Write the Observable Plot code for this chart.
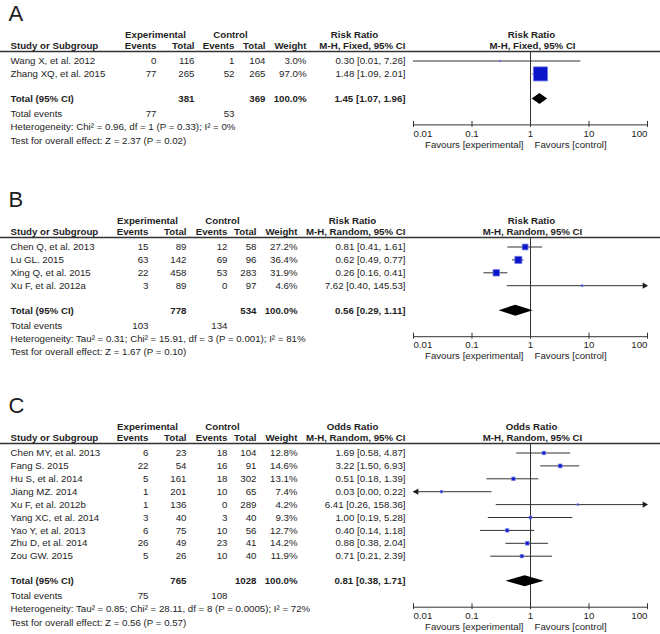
<!DOCTYPE html>
<html>
<head>
<meta charset="utf-8">
<script src="https://cdn.jsdelivr.net/npm/d3@7"></script>
<script src="https://cdn.jsdelivr.net/npm/@observablehq/plot@0.6"></script>
<style>
  html, body { margin: 0; padding: 0; background: #fff; }
  #chart { width: 660px; height: 634px; overflow: hidden; }
  #chart svg { display: block; }
</style>
</head>
<body>
<div id="chart"></div>
<script>
// ---------- shared labels ----------
const groupLabels = ["Experimental", "Control"];
const columnLabels = ["Study or Subgroup", "Events", "Total", "Events", "Total", "Weight"];
const axisTicks = [0.01, 0.1, 1, 10, 100];
const axisTickLabels = ["0.01", "0.1", "1", "10", "100"];
const favoursLabels = ["Favours [experimental]", "Favours [control]"];
const totalRowLabel = "Total (95% CI)";
const totalEventsLabel = "Total events";
const totalWeightLabel = "100.0%";

// ---------- Panel A ----------
const panelA_letter = "A";
const panelA_measure = "Risk Ratio";
const panelA_method = "M-H, Fixed, 95% CI";
const panelA_studies = ["Wang X, et al. 2012", "Zhang XQ, et al. 2015"];
const panelA_expEvents = [0, 77];
const panelA_expTotal = [116, 265];
const panelA_ctrlEvents = [1, 52];
const panelA_ctrlTotal = [104, 265];
const panelA_weight = [3.0, 97.0];
const panelA_est = [0.30, 1.48];
const panelA_lower = [0.01, 1.09];
const panelA_upper = [7.26, 2.01];
const panelA_totals = [381, 369];
const panelA_pooled = [1.45, 1.07, 1.96];
const panelA_totalEvents = [77, 53];
const panelA_heterogeneity = "Heterogeneity: Chi² = 0.96, df = 1 (P = 0.33); I² = 0%";
const panelA_overall = "Test for overall effect: Z = 2.37 (P = 0.02)";

// ---------- Panel B ----------
const panelB_letter = "B";
const panelB_measure = "Risk Ratio";
const panelB_method = "M-H, Random, 95% CI";
const panelB_studies = ["Chen Q, et al. 2013", "Lu GL. 2015", "Xing Q, et al. 2015", "Xu F, et al. 2012a"];
const panelB_expEvents = [15, 63, 22, 3];
const panelB_expTotal = [89, 142, 458, 89];
const panelB_ctrlEvents = [12, 69, 53, 0];
const panelB_ctrlTotal = [58, 96, 283, 97];
const panelB_weight = [27.2, 36.4, 31.9, 4.6];
const panelB_est = [0.81, 0.62, 0.26, 7.62];
const panelB_lower = [0.41, 0.49, 0.16, 0.40];
const panelB_upper = [1.61, 0.77, 0.41, 145.53];
const panelB_totals = [778, 534];
const panelB_pooled = [0.56, 0.29, 1.11];
const panelB_totalEvents = [103, 134];
const panelB_heterogeneity = "Heterogeneity: Tau² = 0.31; Chi² = 15.91, df = 3 (P = 0.001); I² = 81%";
const panelB_overall = "Test for overall effect: Z = 1.67 (P = 0.10)";

// ---------- Panel C ----------
const panelC_letter = "C";
const panelC_measure = "Odds Ratio";
const panelC_method = "M-H, Random, 95% CI";
const panelC_studies = ["Chen MY, et al. 2013", "Fang S. 2015", "Hu S, et al. 2014", "Jiang MZ. 2014", "Xu F, et al. 2012b", "Yang XC, et al. 2014", "Yao Y, et al. 2013", "Zhu D, et al. 2014", "Zou GW. 2015"];
const panelC_expEvents = [6, 22, 5, 1, 1, 3, 6, 26, 5];
const panelC_expTotal = [23, 54, 161, 201, 136, 40, 75, 49, 26];
const panelC_ctrlEvents = [18, 16, 18, 10, 0, 3, 10, 23, 10];
const panelC_ctrlTotal = [104, 91, 302, 65, 289, 40, 56, 41, 40];
const panelC_weight = [12.8, 14.6, 13.1, 7.4, 4.2, 9.3, 12.7, 14.2, 11.9];
const panelC_est = [1.69, 3.22, 0.51, 0.03, 6.41, 1.00, 0.40, 0.88, 0.71];
const panelC_lower = [0.58, 1.50, 0.18, 0.00, 0.26, 0.19, 0.14, 0.38, 0.21];
const panelC_upper = [4.87, 6.93, 1.39, 0.22, 158.36, 5.28, 1.18, 2.04, 2.39];
const panelC_totals = [765, 1028];
const panelC_pooled = [0.81, 0.38, 1.71];
const panelC_totalEvents = [75, 108];
const panelC_heterogeneity = "Heterogeneity: Tau² = 0.85; Chi² = 28.11, df = 8 (P = 0.0005); I² = 72%";
const panelC_overall = "Test for overall effect: Z = 0.56 (P = 0.57)";

// ---------- drawing ----------
const FONT = "'Liberation Sans', Arial, Helvetica, sans-serif";
const INK = "#1e1e1e";
const LINE = "#333";
const BLUE = "#0a14c8";
const BLUE_EDGE = "#6e78e6";
const f2 = d3.format(".2f");
const ciText = (e, l, h) => `${f2(e)} [${f2(l)}, ${f2(h)}]`;
const wText = w => `${w.toFixed(1)}%`;

function forestPanel(d, lay) {
  const P = 12.9, L = 51, H = lay.height;
  const u = px => px / P;
  const n = d.studies.length;
  const rowPx = i => 9.5 + P * i;
  const totPx = rowPx(n - 1) + 25;
  const yTot = u(totPx), yEv = u(totPx + 15), yHet = u(totPx + 28), yTest = u(totPx + 41.5);
  const yAxis = u(totPx + 26), yTickLbl = u(totPx + 34.5), yFav = u(totPx + 45.5);
  const yLetter = u(-38), yH1 = u(-17), yH2 = u(-5.5);
  const [cEE, cET, cCE, cCT, cW, cCI] = lay.cols;
  const xlo = 0.01, xhi = 100;
  const rows = d.studies.map((name, i) => ({
    name, y: u(rowPx(i)),
    ee: d.expEvents[i], et: d.expTotal[i], ce: d.ctrlEvents[i], ct: d.ctrlTotal[i],
    w: d.weight[i], est: d.est[i], lo: d.lower[i], hi: d.upper[i]
  }));
  const one = [{}];
  const T = { fontFamily: FONT, fontSize: 9.7, fill: INK };
  const TB = { ...T, fontWeight: "bold" };
  // table text positioned from frame's left edge
  const tx = (text, y, dx, anchor, style = T) =>
    Plot.text(one, { text: () => text, y: () => y, frameAnchor: "left", dx, textAnchor: anchor, ...style });
  const col = (field, dx, style = T) =>
    Plot.text(rows, { text: field, y: "y", frameAnchor: "left", dx, textAnchor: "end", ...style });

  const h = u(5.5);
  const [pe, pl, ph] = d.pooled;
  const diamond = [
    { x: pl, y1: yTot, y2: yTot },
    { x: pe, y1: yTot - h, y2: yTot + h },
    { x: ph, y1: yTot, y2: yTot }
  ];

  const marks = [
    // header rule across the full width
    Plot.ruleY(one, { y: () => 0, stroke: LINE, strokeWidth: 1.3 }),
    // line of no effect
    Plot.ruleX(one, { x: () => 1, y1: () => 0, y2: () => yAxis, stroke: LINE }),
    // axis
    Plot.ruleY(one, { y: () => yAxis, x1: () => xlo, x2: () => xhi, stroke: LINE }),
    Plot.ruleX(axisTicks, { x: t => t, y1: () => yAxis - u(3.5), y2: () => yAxis + u(2.5), stroke: LINE }),
    Plot.text(axisTicks.slice(0, 1), { x: t => t, y: () => yTickLbl, text: (t, i) => axisTickLabels[0], textAnchor: "start", ...T }),
    Plot.text(axisTicks.slice(1, 4), { x: t => t, y: () => yTickLbl, text: (t, i) => axisTickLabels[i + 1], textAnchor: "middle", ...T }),
    Plot.text(axisTicks.slice(4), { x: t => t, y: () => yTickLbl, text: () => axisTickLabels[4], textAnchor: "end", ...T }),
    Plot.text(one, { x: () => 1, y: () => yFav, text: () => favoursLabels[0], textAnchor: "end", dx: -7, ...T }),
    Plot.text(one, { x: () => 1, y: () => yFav, text: () => favoursLabels[1], textAnchor: "start", dx: 4, ...T }),
    // confidence intervals
    Plot.ruleY(rows, { y: "y", x1: r => Math.max(r.lo, xlo), x2: r => Math.min(r.hi, xhi), stroke: LINE }),
    Plot.dot(rows.filter(r => r.hi > xhi), { x: () => xhi, y: "y", symbol: "triangle", rotate: 90, r: 2.3, fill: INK, stroke: "none", dx: -3 }),
    Plot.dot(rows.filter(r => r.lo < xlo), { x: () => xlo, y: "y", symbol: "triangle", rotate: -90, r: 2.3, fill: INK, stroke: "none", dx: 3 }),
    // study squares
    Plot.dot(rows, { x: "est", y: "y", r: "w", symbol: "square", fill: BLUE, stroke: BLUE_EDGE, strokeWidth: 0.8 }),
    // pooled diamond
    Plot.area(diamond, { x1: "x", y1: "y1", y2: "y2", fill: "#000" }),
    // panel letter
    tx(d.letter, yLetter, 8, "start", { ...T, fontSize: 22 }),
    // header row 1
    tx(groupLabels[0], yH1, lay.expHdr, "middle", TB),
    tx(groupLabels[1], yH1, lay.ctrlHdr, "middle", TB),
    tx(d.measure, yH1, lay.measHdr, "middle", TB),
    Plot.text(one, { x: () => 1, y: () => yH1, text: () => d.measure, textAnchor: "middle", dx: 1, ...TB }),
    // header row 2
    tx(columnLabels[0], yH2, 10, "start", TB),
    tx(columnLabels[1], yH2, cEE, "end", TB),
    tx(columnLabels[2], yH2, cET, "end", TB),
    tx(columnLabels[3], yH2, cCE, "end", TB),
    tx(columnLabels[4], yH2, cCT, "end", TB),
    tx(columnLabels[5], yH2, cW, "end", TB),
    tx(d.method, yH2, cCI, "end", TB),
    Plot.text(one, { x: () => 1, y: () => yH2, text: () => d.method, textAnchor: "middle", dx: 2, ...TB }),
    // study rows
    Plot.text(rows, { text: "name", y: "y", frameAnchor: "left", dx: 10, textAnchor: "start", ...T }),
    col("ee", cEE), col("et", cET), col("ce", cCE), col("ct", cCT),
    col(r => wText(r.w), cW),
    col(r => ciText(r.est, r.lo, r.hi), cCI),
    // total row
    tx(totalRowLabel, yTot, 10, "start", TB),
    tx(String(d.totals[0]), yTot, cET, "end", TB),
    tx(String(d.totals[1]), yTot, cCT, "end", TB),
    tx(totalWeightLabel, yTot, cW, "end", TB),
    tx(ciText(pe, pl, ph), yTot, cCI, "end", TB),
    // total events
    tx(totalEventsLabel, yEv, 10, "start"),
    tx(String(d.totalEvents[0]), yEv, cEE, "end"),
    tx(String(d.totalEvents[1]), yEv, cCE, "end"),
    // heterogeneity / overall
    tx(d.heterogeneity, yHet, 10, "start"),
    tx(d.overall, yTest, 10, "start")
  ];

  return Plot.plot({
    width: 660,
    height: H,
    margin: 0,
    x: { type: "log", domain: [xlo, xhi], range: [413, 647], axis: null },
    y: { domain: [u(-L), u(H - L)], range: [0, H], axis: null },
    r: { type: "pow", exponent: 0.7, domain: [0, 100], range: [0, 8.1] },
    style: { fontFamily: FONT, background: "#fff", overflow: "visible" },
    marks
  });
}

const panels = [
  [{ letter: panelA_letter, measure: panelA_measure, method: panelA_method, studies: panelA_studies,
     expEvents: panelA_expEvents, expTotal: panelA_expTotal, ctrlEvents: panelA_ctrlEvents, ctrlTotal: panelA_ctrlTotal,
     weight: panelA_weight, est: panelA_est, lower: panelA_lower, upper: panelA_upper,
     totals: panelA_totals, pooled: panelA_pooled, totalEvents: panelA_totalEvents,
     heterogeneity: panelA_heterogeneity, overall: panelA_overall },
   { height: 186, cols: [156, 194, 234, 265, 306, 405], expHdr: 155, ctrlHdr: 230, measHdr: 354 }],
  [{ letter: panelB_letter, measure: panelB_measure, method: panelB_method, studies: panelB_studies,
     expEvents: panelB_expEvents, expTotal: panelB_expTotal, ctrlEvents: panelB_ctrlEvents, ctrlTotal: panelB_ctrlTotal,
     weight: panelB_weight, est: panelB_est, lower: panelB_lower, upper: panelB_upper,
     totals: panelB_totals, pooled: panelB_pooled, totalEvents: panelB_totalEvents,
     heterogeneity: panelB_heterogeneity, overall: panelB_overall },
   { height: 206, cols: [148, 186, 227, 256, 297, 405], expHdr: 147, ctrlHdr: 222, measHdr: 352 }],
  [{ letter: panelC_letter, measure: panelC_measure, method: panelC_method, studies: panelC_studies,
     expEvents: panelC_expEvents, expTotal: panelC_expTotal, ctrlEvents: panelC_ctrlEvents, ctrlTotal: panelC_ctrlTotal,
     weight: panelC_weight, est: panelC_est, lower: panelC_lower, upper: panelC_upper,
     totals: panelC_totals, pooled: panelC_pooled, totalEvents: panelC_totalEvents,
     heterogeneity: panelC_heterogeneity, overall: panelC_overall },
   { height: 242, cols: [148, 186, 227, 256, 297, 405], expHdr: 147, ctrlHdr: 222, measHdr: 352 }]
];

const root = document.getElementById("chart");
for (const [d, lay] of panels) root.appendChild(forestPanel(d, lay));
</script>
</body>
</html>
